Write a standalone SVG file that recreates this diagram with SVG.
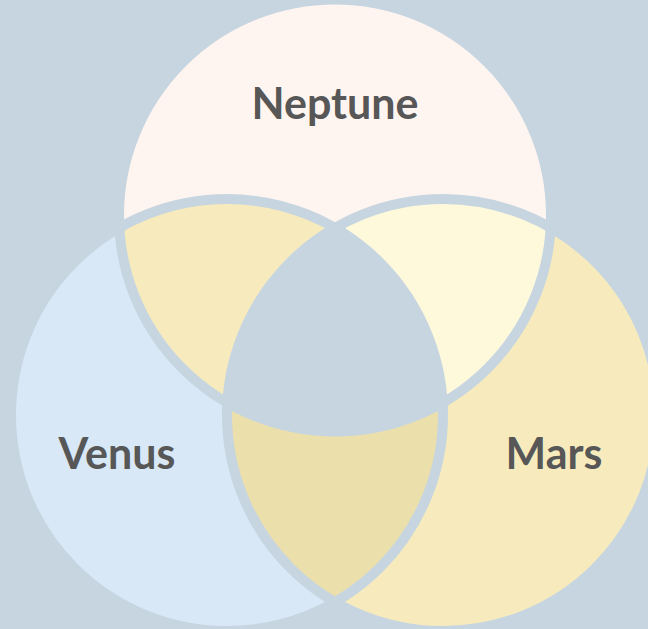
<svg xmlns="http://www.w3.org/2000/svg" width="648" height="629" viewBox="0 0 648 629">
  <style>
    .ring { fill: none; stroke: #c6d5e0; stroke-width: 10; }
    .label { font-family: Lato, "Open Sans", sans-serif; font-weight: 700; font-size: 43px; fill: #575757; text-anchor: middle; }
  </style>
  <defs>
    <clipPath id="clipNeptune"><circle cx="335" cy="215.5" r="216"/></clipPath>
    <clipPath id="clipVenus"><circle cx="227" cy="415" r="216"/></clipPath>
  </defs>
  <rect x="0" y="0" width="648" height="629" fill="#c6d5e0"/>
  <g id="neptune">
    <circle cx="335" cy="215.5" r="216" fill="#fff5f0"/>
  </g>
  <g id="venus">
    <circle cx="227" cy="415" r="216" fill="#d8e8f6"/>
  </g>
  <g id="mars">
    <circle cx="443" cy="415" r="216" fill="#f7ebbe"/>
  </g>
  <g id="overlaps">
    <circle cx="227" cy="415" r="216" fill="#f7ebbe" clip-path="url(#clipNeptune)"/>
    <circle cx="443" cy="415" r="216" fill="#fff9dc" clip-path="url(#clipNeptune)"/>
    <circle cx="443" cy="415" r="216" fill="#ebdfac" clip-path="url(#clipVenus)"/>
    <g clip-path="url(#clipNeptune)">
      <circle cx="443" cy="415" r="216" fill="#c6d5e0" clip-path="url(#clipVenus)"/>
    </g>
  </g>
  <g id="outlines">
    <circle class="ring" cx="335" cy="215.5" r="216"/>
    <circle class="ring" cx="227" cy="415" r="216"/>
    <circle class="ring" cx="443" cy="415" r="216"/>
  </g>
  <g id="labels">
    <text class="label" x="335" y="119">Neptune</text>
    <text class="label" x="117" y="469">Venus</text>
    <text class="label" x="554" y="469">Mars</text>
  </g>
</svg>
